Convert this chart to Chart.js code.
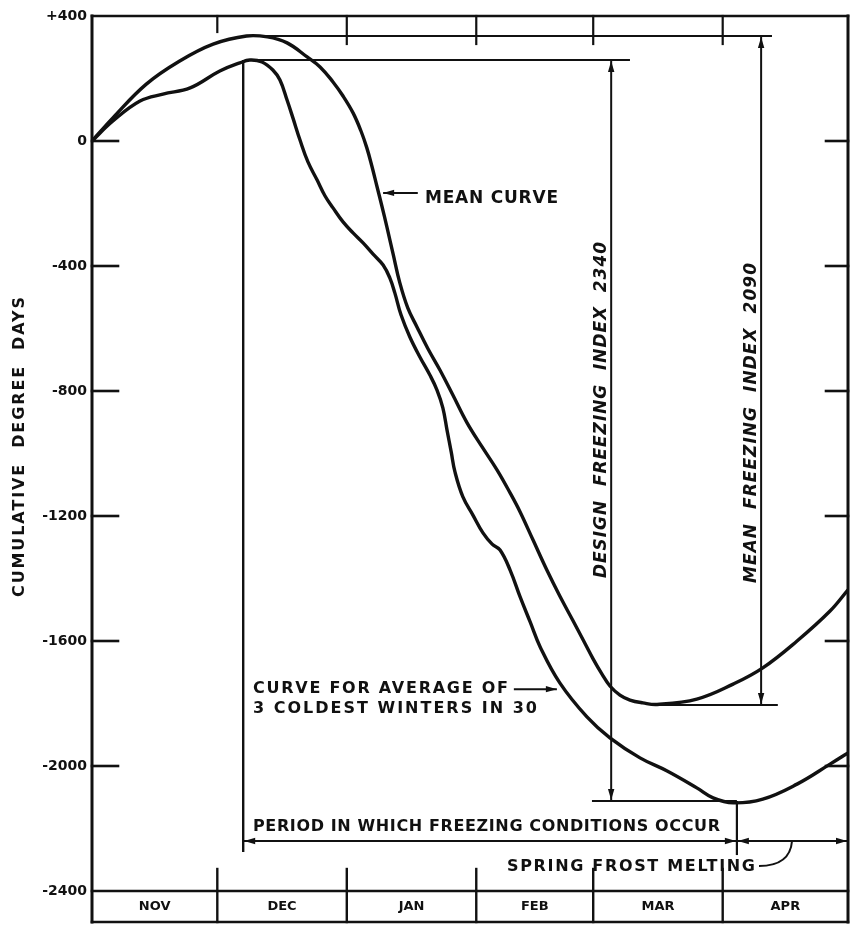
<!DOCTYPE html>
<html>
<head>
<meta charset="utf-8">
<script src="https://cdn.jsdelivr.net/npm/chart.js@4.4.1/dist/chart.umd.min.js"></script>
<style>
html, body { margin: 0; padding: 0; background: #fff; }
canvas { display: block; }
</style>
</head>
<body>
<canvas id="chart" width="851" height="927"></canvas>
<script>
// days counted from 1 Nov, values in cumulative degree days
const meanDays = [0, 5, 13, 21, 29, 37, 42, 46.7, 51.5, 54.6, 57.7, 60.1, 62.5, 64.4, 65.8, 67.0, 68.2, 69.4, 70.6, 72.1, 73.7, 75.6, 77.8, 80.4, 83.3, 86.4, 89.8, 93.4, 97.0, 100.1, 102.5, 105.6, 108.9, 112.0, 115.2, 117.6, 120.0, 122.1, 124.0, 126.4, 128.8, 131.9, 135.3, 144.8, 153.5, 160.6, 168.8, 176.7, 181];
const meanValues = [0, 74, 182, 256, 310, 336, 333, 314, 269, 237, 189, 144, 90, 32, -22, -80, -144, -208, -275, -362, -454, -534, -595, -664, -733, -813, -902, -979, -1053, -1126, -1187, -1277, -1373, -1456, -1536, -1597, -1658, -1706, -1744, -1773, -1789, -1798, -1803, -1786, -1738, -1686, -1600, -1504, -1436];

const coldDays = [0, 5, 11.5, 17, 23.5, 30.6, 35.4, 37.8, 40.7, 43.3, 45.0, 46.7, 48.1, 49.8, 51.7, 53.9, 55.8, 57.7, 60.1, 62.5, 64.9, 67.3, 69.7, 71.3, 72.5, 74.0, 76.1, 78.5, 80.9, 82.6, 84.0, 85.0, 86.0, 86.9, 88.8, 91.2, 93.6, 95.8, 97.7, 100.1, 102.5, 104.9, 107.3, 112.0, 118.5, 124, 131.2, 137.7, 144.8, 148.7, 153.5, 160.6, 168.8, 176.7, 181];
const coldValues = [0, 64, 128, 150, 170, 224, 250, 259, 253, 227, 195, 131, 74, 3, -67, -125, -176, -214, -259, -294, -326, -362, -397, -438, -486, -557, -627, -691, -749, -797, -854, -925, -995, -1059, -1139, -1197, -1254, -1290, -1309, -1373, -1459, -1539, -1619, -1734, -1843, -1910, -1974, -2016, -2070, -2102, -2118, -2106, -2058, -1994, -1958];

const monthNames = ['NOV', 'DEC', 'JAN', 'FEB', 'MAR', 'APR'];
const monthStarts = [0, 30, 61, 92, 120, 151, 181];
const yTicks = [400, 0, -400, -800, -1200, -1600, -2000, -2400];

// freezing index marks
const designTop = 259, designBottom = -2112;
const meanTop = 336, meanBottom = -1805;
const peakDay = 36.2, designIndexDay = 124.3, meanIndexDay = 160.2, thawDay = 154.4;
const periodLevel = -2240;

const INK = '#111';
const FONT = '"DejaVu Sans", sans-serif';

function seg(ctx, x1, y1, x2, y2, w) {
    ctx.lineWidth = w;
    ctx.beginPath();
    ctx.moveTo(x1, y1);
    ctx.lineTo(x2, y2);
    ctx.stroke();
}

// filled narrow arrow head, tip at (x,y), dir in radians
function head(ctx, x, y, dir) {
    const len = 11, half = 3.2;
    ctx.save();
    ctx.translate(x, y);
    ctx.rotate(dir);
    ctx.beginPath();
    ctx.moveTo(0, 0);
    ctx.lineTo(-len, -half);
    ctx.lineTo(-len, half);
    ctx.closePath();
    ctx.fill();
    ctx.restore();
}

function fitText(ctx, text, x, y, width, font) {
    ctx.font = font;
    ctx.letterSpacing = '0px';
    const w = ctx.measureText(text).width;
    ctx.letterSpacing = ((width - w) / (text.length - 1)) + 'px';
    ctx.textAlign = 'left';
    ctx.fillText(text, x, y);
    ctx.letterSpacing = '0px';
}

function upText(ctx, text, cx, cy, width, font, baseline) {
    ctx.save();
    ctx.translate(cx, cy);
    ctx.rotate(-Math.PI / 2);
    ctx.textBaseline = baseline;
    fitText(ctx, text, -width / 2, 0, width, font);
    ctx.restore();
}

const inkPlugin = {
    id: 'ink',
    afterDatasetsDraw(chart) {
        const ctx = chart.ctx;
        const a = chart.chartArea;
        const px = d => chart.scales.x.getPixelForValue(d);
        const py = v => chart.scales.y.getPixelForValue(v);
        const bandBottom = a.bottom + 31;

        ctx.save();
        ctx.strokeStyle = INK;
        ctx.fillStyle = INK;
        ctx.lineCap = 'square';

        // frame and month band
        seg(ctx, a.left, a.top, a.right, a.top, 2.6);
        seg(ctx, a.left, a.top, a.left, bandBottom, 3);
        seg(ctx, a.right, a.top, a.right, bandBottom, 3);
        seg(ctx, a.left, a.bottom, a.right, a.bottom, 2.6);
        seg(ctx, a.left, bandBottom, a.right, bandBottom, 2.6);
        for (let i = 1; i < monthStarts.length - 1; i++) {
            const x = px(monthStarts[i]);
            seg(ctx, x, a.bottom - 22, x, bandBottom, 2.4);
            seg(ctx, x, a.top, x, a.top + (i === 1 ? 16 : 28), 2.2);
        }
        ctx.textBaseline = 'middle';
        ctx.textAlign = 'center';
        ctx.font = 'bold 13px ' + FONT;
        monthNames.forEach((m, i) => {
            ctx.fillText(m, (px(monthStarts[i]) + px(monthStarts[i + 1])) / 2, a.bottom + 16);
        });

        // axis ticks, pointing inward
        yTicks.slice(1, -1).forEach(v => {
            seg(ctx, a.left, py(v), a.left + 26, py(v), 2.6);
            seg(ctx, a.right - 22, py(v), a.right, py(v), 2.6);
        });

        // freezing index guides
        ctx.lineCap = 'butt';
        seg(ctx, px(37.8), py(meanTop), px(162.8), py(meanTop), 2);
        seg(ctx, px(36.6), py(designTop), px(128.8), py(designTop), 2);
        seg(ctx, px(134.8), py(meanBottom), px(164.2), py(meanBottom), 2);
        seg(ctx, px(119.7), py(designBottom), px(154.4), py(designBottom), 2);

        seg(ctx, px(designIndexDay), py(designTop), px(designIndexDay), py(designBottom), 2);
        head(ctx, px(designIndexDay), py(designTop) + 1, -Math.PI / 2);
        head(ctx, px(designIndexDay), py(designBottom) - 1, Math.PI / 2);
        seg(ctx, px(meanIndexDay), py(meanTop), px(meanIndexDay), py(meanBottom), 2);
        head(ctx, px(meanIndexDay), py(meanTop) + 1, -Math.PI / 2);
        head(ctx, px(meanIndexDay), py(meanBottom) - 1, Math.PI / 2);

        // freezing period and thaw
        seg(ctx, px(peakDay), py(designTop), px(peakDay), py(-2275), 2.4);
        seg(ctx, px(thawDay), py(designBottom), px(thawDay), py(-2285), 2.2);
        seg(ctx, px(peakDay), py(periodLevel), a.right, py(periodLevel), 2);
        head(ctx, px(peakDay) + 1, py(periodLevel), Math.PI);
        head(ctx, px(thawDay) - 1, py(periodLevel), 0);
        head(ctx, px(thawDay) + 1, py(periodLevel), Math.PI);
        head(ctx, a.right - 1, py(periodLevel), 0);

        // curve call-outs
        seg(ctx, px(69.7), py(-166), px(78), py(-166), 2);
        head(ctx, px(69.7), py(-166), Math.PI);
        seg(ctx, px(101), py(-1754), px(111.3), py(-1754), 2);
        head(ctx, px(111.3), py(-1754), 0);

        ctx.lineWidth = 2;
        ctx.beginPath();
        ctx.moveTo(759, 866);
        ctx.quadraticCurveTo(790, 866, px(167.6), py(periodLevel));
        ctx.stroke();

        // lettering
        ctx.textBaseline = 'alphabetic';
        const bold = 'bold 16px ' + FONT;
        fitText(ctx, 'MEAN CURVE', 425, 203, 133, 'bold 17px ' + FONT);
        fitText(ctx, 'CURVE FOR AVERAGE OF', 253, 693, 255, bold);
        fitText(ctx, '3 COLDEST WINTERS IN 30', 253, 713, 284, bold);
        fitText(ctx, 'PERIOD IN WHICH FREEZING CONDITIONS OCCUR', 253, 831, 467, bold);
        fitText(ctx, 'SPRING FROST MELTING', 507, 871, 248, bold);

        upText(ctx, 'CUMULATIVE  DEGREE  DAYS', 20, 447, 300, 'bold 16px ' + FONT, 'middle');
        upText(ctx, 'DESIGN  FREEZING  INDEX  2340', 606, 410, 336, 'italic bold 17px ' + FONT, 'alphabetic');
        upText(ctx, 'MEAN  FREEZING  INDEX  2090', 756, 423, 320, 'italic bold 17px ' + FONT, 'alphabetic');

        ctx.restore();
    }
};

const ctx = document.getElementById('chart').getContext('2d');
new Chart(ctx, {
    type: 'line',
    data: {
        datasets: [{
            label: 'Mean curve',
            data: meanDays.map((d, i) => ({ x: d, y: meanValues[i] })),
            borderColor: INK,
            borderWidth: 3.4,
            pointRadius: 0,
            tension: 0.4,
            fill: false
        }, {
            label: 'Average of 3 coldest winters in 30',
            data: coldDays.map((d, i) => ({ x: d, y: coldValues[i] })),
            borderColor: INK,
            borderWidth: 3.4,
            pointRadius: 0,
            tension: 0.4,
            fill: false
        }]
    },
    options: {
        responsive: false,
        animation: false,
        devicePixelRatio: 1,
        layout: { padding: { top: 16, right: 3, bottom: 36, left: 0 } },
        plugins: {
            legend: { display: false },
            tooltip: { enabled: false }
        },
        scales: {
            x: {
                type: 'linear',
                min: 0,
                max: 181,
                display: false
            },
            y: {
                type: 'linear',
                min: -2400,
                max: 400,
                afterBuildTicks: s => { s.ticks = yTicks.map(v => ({ value: v })); },
                afterFit: s => { s.width = 92; s.paddingTop = 0; s.paddingBottom = 0; },
                grid: { drawOnChartArea: false, drawTicks: false },
                border: { display: false },
                ticks: {
                    padding: 5,
                    color: INK,
                    font: { family: FONT, size: 14, weight: 'bold' },
                    callback: v => v > 0 ? '+' + v : String(v)
                }
            }
        }
    },
    plugins: [inkPlugin]
});
</script>
</body>
</html>
